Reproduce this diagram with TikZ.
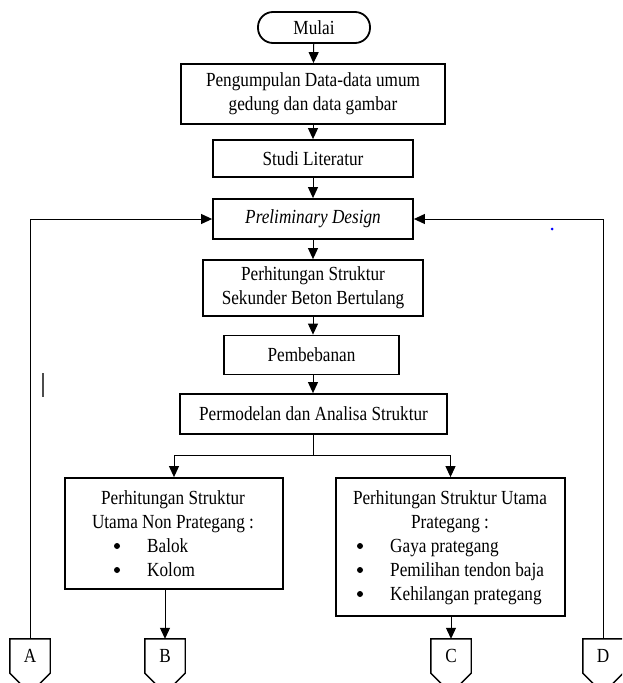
\documentclass[tikz,border=0pt]{standalone}
\usepackage{fontspec}
\setmainfont{Liberation Serif}[FakeStretch=0.86]
\usetikzlibrary{arrows.meta,calc}
\begin{document}
\begin{tikzpicture}[x=1pt,y=-1pt,
  txt/.style={font=\fontsize{20}{24}\selectfont, inner sep=0pt},
  procbox/.style={draw, line width=1.8pt, inner sep=0pt, align=center, txt},
  conn/.style={line width=1pt},
  arr/.style={conn, -{Triangle[length=11pt,width=10pt]}},
  bul/.style={fill, circle, inner sep=0pt, minimum size=6pt},
  offpage/.style={inner sep=0pt, minimum width=40pt, minimum height=34pt, txt},
  offshape/.style={line width=1.4pt},
]
\useasboundingbox (0,0) rectangle (622,683);
\clip (0,0) rectangle (622,683);
\fill[white] (0,0) rectangle (622,683);

\node[procbox, rounded corners=15pt, minimum width=112pt, minimum height=31pt] (mulai) at (314,27.5) {Mulai};
\node[procbox, minimum width=264pt, minimum height=60pt] (data) at (313,94) {Pengumpulan Data-data umum\\gedung dan data gambar};
\node[procbox, minimum width=200pt, minimum height=37pt] (studi) at (313,158.5) {Studi Literatur};
\node[procbox, minimum width=200pt, minimum height=40pt] (prelim) at (313,219) {\itshape Preliminary Design};
\node[procbox, minimum width=220pt, minimum height=56pt] (sek) at (313,288) {Perhitungan Struktur\\Sekunder Beton Bertulang};
\node[procbox, minimum width=175pt, minimum height=39pt] (pemb) at (311.5,355) {Pembebanan};
\node[procbox, minimum width=267pt, minimum height=40pt] (perm) at (313.5,414) {Permodelan dan Analisa Struktur};

\node[procbox, minimum width=218pt, minimum height=111pt] (left) at (174,533.5) {};
\node[procbox, minimum width=229pt, minimum height=138pt] (right) at (450.5,547) {};

% left box text
\node[txt, anchor=base] (l1) at (173,504) {Perhitungan Struktur};
\node[txt, anchor=base] (l2) at (173,528) {Utama Non Prategang :};
\node[bul] (lb1) at (117,546) {};
\node[txt, anchor=base west] (lt1) at (147,552) {Balok};
\node[bul] (lb2) at (117,570) {};
\node[txt, anchor=base west] (lt2) at (147,576) {Kolom};

% right box text
\node[txt, anchor=base] (r1) at (450,504) {Perhitungan Struktur Utama};
\node[txt, anchor=base] (r2) at (450,528) {Prategang :};
\node[bul] (rb1) at (360,546) {};
\node[txt, anchor=base west] (rt1) at (390,552) {Gaya prategang};
\node[bul] (rb2) at (360,570) {};
\node[txt, anchor=base west] (rt2) at (390,576) {Pemilihan tendon baja};
\node[bul] (rb3) at (360,594) {};
\node[txt, anchor=base west] (rt3) at (390,600) {Kehilangan prategang};

% off-page connectors
\node[offpage] (A) at (30,656) {A};
\node[offpage] (B) at (165,656) {B};
\node[offpage] (C) at (451,656) {C};
\node[offpage] (D) at (603,656) {D};
\foreach \n in {A,B,C,D}{
  \draw[offshape] (\n.south west) -- (\n.north west) -- (\n.north east) -- (\n.south east) -- ($(\n.south)+(0,20)$) -- cycle;
}

% connectors
\draw[arr] (mulai) -- (data);
\draw[arr] (data) -- (studi);
\draw[arr] (studi) -- (prelim);
\draw[arr] (prelim) -- (sek);
\draw[arr] (sek.south) -- (sek.south |- pemb.north);
\draw[arr] (pemb.south -| sek.south) -- (perm.north -| sek.south);
\coordinate (br) at (313.5,455);
\draw[conn] (perm.south) -- (br);
\draw[arr] (br) -| (left.north);
\draw[arr] (br) -| (right.north);
\draw[arr] (left.south -| B.north) -- (B.north);
\draw[arr] (right.south -| C.north) -- (C.north);
\draw[arr] (A.north) |- (prelim.west);
\draw[arr] (D.north) |- (prelim.east);

% stray marks
\draw[line width=1.5pt, black!70] (43,373) -- (43,397);
\fill[blue] (552,229) circle (1.5pt);
\end{tikzpicture}
\end{document}
